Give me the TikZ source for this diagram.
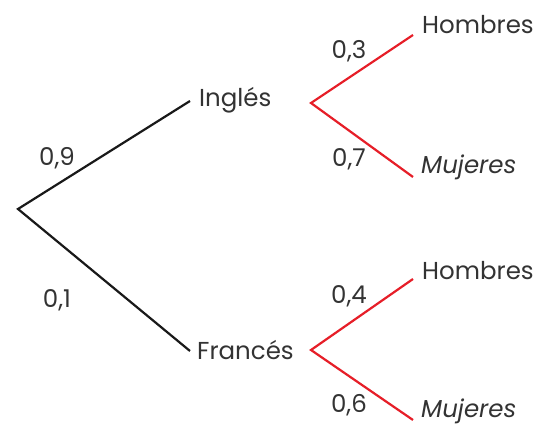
\documentclass[tikz,border=0pt]{standalone}
\usepackage{fontspec}
\setmainfont{Poppins}
\definecolor{branchred}{RGB}{230,30,40}
\begin{document}
\begin{tikzpicture}[x=1pt,y=-1pt,
  lbl/.style={inner sep=0pt,font=\fontsize{24.5}{26}\selectfont\color{black!80}},
  blk/.style={line width=2.2pt,black!90},
  redb/.style={line width=2.2pt,branchred}]
\useasboundingbox (0,0) rectangle (542,427);
\coordinate (r) at (18,209);
\coordinate (i) at (190,101);
\coordinate (f) at (190,351);
\coordinate (ir) at (311,103);
\coordinate (fr) at (311,350);
\coordinate (ih) at (413,35);
\coordinate (im) at (413,177);
\coordinate (fh) at (413,279);
\coordinate (fm) at (413,420);
\draw[blk,line join=miter] (i) -- (r) -- (f);
\draw[redb] (ih) -- (ir) -- (im);
\draw[redb] (fh) -- (fr) -- (fm);
\node[lbl,anchor=west] (ni) at (199,100) {Inglés};
\node[lbl,anchor=west] (nf) at (197,350) {Francés};
\node[lbl,anchor=west] (h1) at (422,25) {Hombres};
\node[lbl,anchor=west] (m1) at (421,167) {\itshape Mujeres};
\node[lbl,anchor=west] (h2) at (422,271) {Hombres};
\node[lbl,anchor=west] (m2) at (421,411) {\itshape Mujeres};
\node[lbl] (p9) at (57,158) {0,9};
\node[lbl] (p1) at (57,300) {0,1};
\node[lbl] (p3) at (349,51) {0,3};
\node[lbl] (p7) at (349,159) {0,7};
\node[lbl] (p4) at (349,296) {0,4};
\node[lbl] (p6) at (349,405) {0,6};
\end{tikzpicture}
\end{document}
